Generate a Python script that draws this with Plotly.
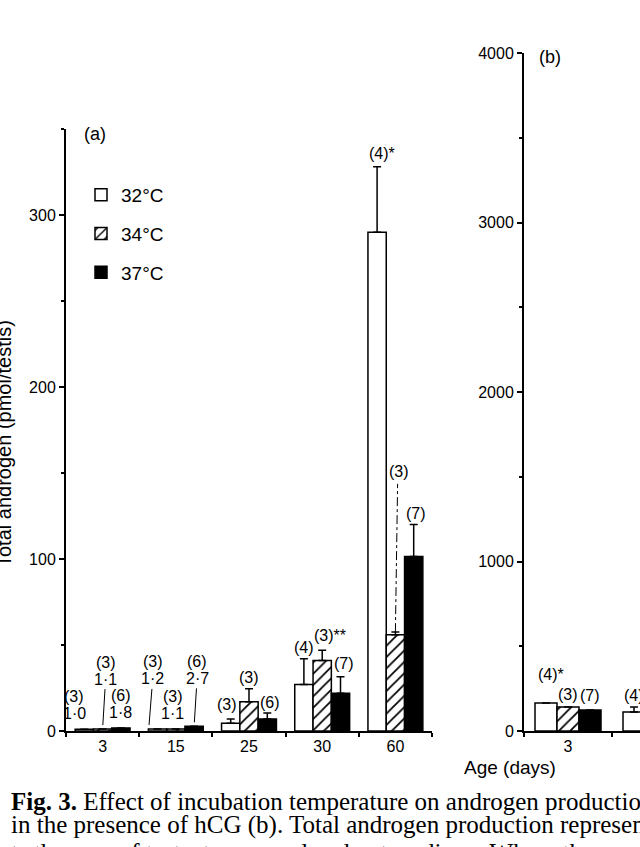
import plotly.graph_objects as go

# ---------------- data ----------------
ages_a = ["3", "15", "25", "30", "60"]
mean_32_a = [1.0, 1.2, 4.5, 27, 290]
mean_34_a = [1.1, 1.1, 17, 41, 56]
mean_37_a = [1.8, 2.7, 7, 22, 101.5]
sem_32_a = [0, 0, 2.5, 15, 38]
sem_34_a = [0, 0, 7.5, 6, 1.5]
sem_37_a = [0, 0, 3.5, 9.5, 18.5]
n_32_a = ["(3)", "(3)", "(3)", "(4)", "(4)*"]
n_34_a = ["(3)", "(3)", "(3)", "(3)**", "(3)"]
n_37_a = ["(6)", "(6)", "(6)", "(7)", "(7)"]

ages_b = ["3", "15"]
mean_32_b = [165, 112]
mean_34_b = [142, None]
mean_37_b = [124, None]
sem_32_b = [0, 30]
sem_34_b = [0, 0]
sem_37_b = [0, 0]
n_32_b = ["(4)*", "(4)"]
n_34_b = ["(3)", ""]
n_37_b = ["(7)", ""]

series_names = ["32°C", "34°C", "37°C"]

# ---------------- layout geometry (page pixels) ----------------
W, H = 640, 847
SANS = "Liberation Sans, Arial, Helvetica, sans-serif"
SERIF = "Liberation Serif, Times New Roman, serif"

def px(xp):
    return xp / W

def py(yp):
    return 1 - yp / H

ya_range = [0, 350]
yb_range = [0, 4000]
a_bottom, a_top = 731, 129
b_top = 53
units_per_px_a = (ya_range[1] - ya_range[0]) / (a_bottom - a_top)

styles = [
    dict(color="white", pattern=None),
    dict(color="white", pattern=dict(shape="/", fgcolor="black", bgcolor="white", size=8, solidity=0.22)),
    dict(color="black", pattern=None),
]

fig = go.Figure()

def add_bars(xvals, means, sems, name, style, xa, ya, showlegend):
    marker = dict(color=style["color"], line=dict(color="black", width=1.5))
    if style["pattern"]:
        marker["pattern"] = style["pattern"]
    fig.add_trace(go.Bar(
        x=xvals, y=means, name=name, marker=marker,
        error_y=dict(type="data", array=sems, arrayminus=[0] * len(sems), symmetric=False,
                     color="black", thickness=1.5, width=4),
        xaxis=xa, yaxis=ya, showlegend=showlegend, legendgroup=name,
    ))

xa_vals = list(range(len(ages_a)))
xb_vals = list(range(len(ages_b)))
means_a = [mean_32_a, mean_34_a, mean_37_a]
sems_a = [sem_32_a, sem_34_a, sem_37_a]
ns_a = [n_32_a, n_34_a, n_37_a]
means_b = [mean_32_b, mean_34_b, mean_37_b]
sems_b = [sem_32_b, sem_34_b, sem_37_b]
ns_b = [n_32_b, n_34_b, n_37_b]

for k in range(3):
    add_bars(xa_vals, means_a[k], sems_a[k], series_names[k], styles[k], "x", "y", True)
for k in range(3):
    add_bars(xb_vals, means_b[k], sems_b[k], series_names[k], styles[k], "x2", "y2", False)

BARGAP = 0.25
bar_w = (1 - BARGAP) / 3
offsets = [-bar_w, 0, bar_w]

# ---------------- labels ----------------
def fmt(v):
    return f"{v:.1f}".replace(".", "·")

LABEL_FONT = dict(family=SANS, size=16, color="black")
ROW = 17  # spacing between the two rows of a two-line label (px)

def label(xref, yref, x, y, text, xshift=0, yshift=0, xanchor="center", yanchor="bottom"):
    fig.add_annotation(x=x, y=y, xref=xref, yref=yref, text=text, showarrow=False,
                       xanchor=xanchor, yanchor=yanchor, xshift=xshift, yshift=yshift,
                       font=LABEL_FONT)

# placement spec for panel (a): (series, group) -> dict
spec_a = {
    (0, 0): dict(mode="above", two=True, xshift=-10, yshift=5),
    (1, 0): dict(mode="leader", two=True, ax=3, ay=-50, tipdx=0),
    (2, 0): dict(mode="above", two=True, xshift=0, yshift=5),
    (0, 1): dict(mode="leader", two=True, ax=4, ay=-50, tipdx=-0.12),
    (1, 1): dict(mode="above", two=True, xshift=-3, yshift=5),
    (2, 1): dict(mode="leader", two=True, ax=3, ay=-48, tipdx=0),
    (0, 2): dict(mode="above", xshift=-4, yshift=4),
    (1, 2): dict(mode="above", xshift=0, yshift=1),
    (2, 2): dict(mode="above", xshift=3, yshift=0),
    (0, 3): dict(mode="above", xshift=0, yshift=1),
    (1, 3): dict(mode="left", xshift=-10, yshift=4),
    (2, 3): dict(mode="above", xshift=3, yshift=3),
    (0, 4): dict(mode="left", xshift=-10, yshift=3),
    (1, 4): dict(mode="dashed", lift=150),
    (2, 4): dict(mode="above", xshift=2, yshift=1),
}

for (k, i), sp in spec_a.items():
    v = means_a[k][i]
    top = v + sems_a[k][i]
    xpos = xa_vals[i] + offsets[k]
    txt = ns_a[k][i]
    mode = sp["mode"]
    if mode == "above":
        if sp.get("two"):
            label("x", "y", xpos, top, fmt(v), sp["xshift"], sp["yshift"])
            label("x", "y", xpos, top, txt, sp["xshift"], sp["yshift"] + ROW)
        else:
            label("x", "y", xpos, top, txt, sp["xshift"], sp["yshift"])
    elif mode == "left":
        label("x", "y", xpos, top, txt, sp["xshift"], sp["yshift"], xanchor="left")
    elif mode == "leader":
        fig.add_annotation(x=xpos + sp["tipdx"], y=top, xref="x", yref="y", text=fmt(v),
                           showarrow=True, arrowhead=0, arrowwidth=1, arrowcolor="black",
                           ax=sp["ax"], ay=sp["ay"], standoff=4, font=LABEL_FONT)
        label("x", "y", xpos + sp["tipdx"], top, txt, sp["ax"], -sp["ay"] + ROW,
              yanchor="middle")
    elif mode == "dashed":
        lift_units = sp["lift"] * units_per_px_a
        label("x", "y", xpos, top + lift_units, txt, 4, 0)
        fig.add_shape(type="line", xref="x", yref="y", x0=xpos, y0=top,
                      x1=xpos + 0.03, y1=top + lift_units - 1,
                      line=dict(color="black", width=1, dash="dashdot"))

spec_b = {
    (0, 0): dict(mode="left", xshift=-10, yshift=18),
    (1, 0): dict(mode="above", xshift=0, yshift=2),
    (2, 0): dict(mode="above", xshift=0, yshift=4),
    (0, 1): dict(mode="above", xshift=0, yshift=1),
}
for (k, i), sp in spec_b.items():
    v = means_b[k][i]
    top = v + sems_b[k][i]
    xpos = xb_vals[i] + offsets[k]
    label("x2", "y2", xpos, top, ns_b[k][i], sp["xshift"], sp["yshift"],
          xanchor="left" if sp["mode"] == "left" else "center")

def paper_text(xp, yp, text, size, angle=0, family=SANS, xanchor="center"):
    fig.add_annotation(x=px(xp), y=py(yp), xref="paper", yref="paper", text=text,
                       showarrow=False, xanchor=xanchor, yanchor="middle", textangle=angle,
                       font=dict(family=family, size=size, color="black"))

# panel letters
paper_text(95, 134, "(a)", 18)
paper_text(550, 57, "(b)", 18)

# axis titles
paper_text(510, 767, "Age (days)", 19)
paper_text(4, 444, "Total androgen (pmol/testis)", 20, angle=-90)

# caption
cap_lines = [
    "<b>Fig. 3.</b> Effect of incubation temperature on androgen production",
    "in the presence of hCG (b). Total androgen production represents",
    "ts the sum of testosterone and androstenedione. Where the s.e.m. is not shown",
]
cap_y = [801, 825, 852]
for line, yy in zip(cap_lines, cap_y):
    paper_text(9, yy, line, 25, family=SERIF, xanchor="left")

# ---------------- axes ----------------
axis_common = dict(showline=True, linecolor="black", linewidth=2, showgrid=False,
                   zeroline=False, automargin=False,
                   tickfont=dict(family=SANS, size=16, color="black"),
                   tickcolor="black")

xa_range = [-0.5, len(ages_a) - 0.5]
xb_range = [-0.5, -0.5 + (640 - 524) / 88]

fig.update_layout(
    template="none",
    width=W, height=H, autosize=False,
    margin=dict(l=0, r=0, t=0, b=0, pad=0, autoexpand=False),
    paper_bgcolor="white", plot_bgcolor="white",
    barmode="group", bargap=BARGAP, bargroupgap=0,
    font=dict(family=SANS, color="black"),
    xaxis=dict(domain=[px(66), px(432)], range=xa_range, anchor="y",
               tickmode="array", tickvals=xa_vals, ticktext=ages_a, ticks="",
               minor=dict(tickmode="array", tickvals=[v - 0.5 for v in xa_vals] + [xa_vals[-1] + 0.5],
                          ticks="outside", ticklen=4, tickwidth=2, tickcolor="black"),
               **axis_common),
    yaxis=dict(domain=[py(a_bottom), py(a_top)], range=ya_range, anchor="x",
               tickmode="array", tickvals=[0, 100, 200, 300], ticks="outside", ticklen=5, tickwidth=2,
               minor=dict(tickmode="array", tickvals=[50, 150, 250, 350], ticks="outside",
                          ticklen=3, tickwidth=2, tickcolor="black"),
               **axis_common),
    xaxis2=dict(domain=[px(524), 1.0], range=xb_range, anchor="y2",
                tickmode="array", tickvals=xb_vals, ticktext=ages_b, ticks="",
                minor=dict(tickmode="array", tickvals=[v - 0.5 for v in xb_vals] + [xb_vals[-1] + 0.5],
                           ticks="outside", ticklen=4, tickwidth=2, tickcolor="black"),
                **axis_common),
    yaxis2=dict(domain=[py(a_bottom), py(b_top)], range=yb_range, anchor="x2",
                tickmode="array", tickvals=[0, 1000, 2000, 3000, 4000], ticks="outside",
                ticklen=5, tickwidth=2,
                minor=dict(tickmode="array", tickvals=[500, 1500, 2500, 3500], ticks="outside",
                           ticklen=3, tickwidth=2, tickcolor="black"),
                **axis_common),
    legend=dict(x=px(81), y=py(176), xanchor="left", yanchor="top",
                font=dict(family=SANS, size=19, color="black"),
                bgcolor="rgba(0,0,0,0)", borderwidth=0, tracegroupgap=11, itemclick=False,
                itemdoubleclick=False),
    showlegend=True,
)

fig.write_html("out.html")
